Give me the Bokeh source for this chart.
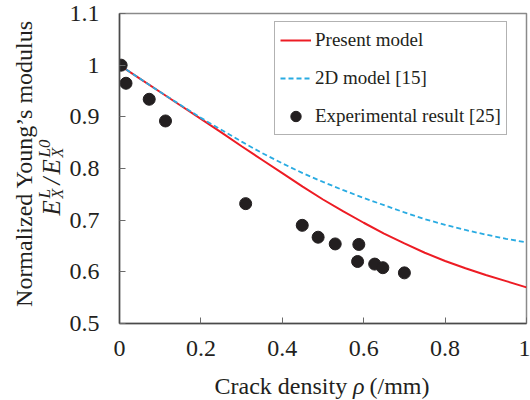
from math import pi
from bokeh.plotting import figure
from bokeh.layouts import row, column
from bokeh.models import Range1d, FixedTicker, Legend, LegendItem
from bokeh.core.properties import value
from bokeh.embed import file_html
from bokeh.resources import INLINE

# ---------------- data ----------------
rho_model = [0.0, 0.05, 0.1, 0.15, 0.2, 0.25, 0.3, 0.35, 0.4, 0.45, 0.5,
             0.55, 0.6, 0.65, 0.7, 0.75, 0.8, 0.85, 0.9, 0.95, 1.0]
present_model = [1.000, 0.974, 0.948, 0.922, 0.896, 0.870, 0.843, 0.817, 0.791, 0.765, 0.740,
                 0.717, 0.695, 0.674, 0.655, 0.637, 0.621, 0.607, 0.594, 0.582, 0.570]
model_2d = [1.000, 0.974, 0.948, 0.923, 0.898, 0.875, 0.852, 0.830, 0.810, 0.791, 0.774,
            0.758, 0.743, 0.729, 0.715, 0.702, 0.691, 0.681, 0.672, 0.664, 0.657]
rho_exp = [0.004, 0.016, 0.073, 0.113, 0.310, 0.449, 0.488, 0.530, 0.588, 0.585, 0.627, 0.647, 0.700]
E_exp = [1.000, 0.965, 0.934, 0.892, 0.732, 0.690, 0.667, 0.654, 0.653, 0.620, 0.615, 0.608, 0.598]

x_ticks = [0, 0.2, 0.4, 0.6, 0.8, 1.0]
x_tick_labels = ["0", "0.2", "0.4", "0.6", "0.8", "1"]
y_ticks = [0.5, 0.6, 0.7, 0.8, 0.9, 1.0, 1.1]
y_tick_labels = ["0.5", "0.6", "0.7", "0.8", "0.9", "1", "1.1"]

series_names = ["Present model", "2D model [15]", "Experimental result [25]"]

# ---------------- layout ----------------
W, H = 530, 400
YSTRIP_W = 66          # strip on the left holding the y title
XSTRIP_H = 28          # strip at the bottom holding the x title
MAIN_W = W - YSTRIP_W
MAIN_H = H - XSTRIP_H
FRAME_L, FRAME_R, FRAME_T, FRAME_B = 118, 526, 13, 323

INK = "#231f20"
SERIF = "Liberation Serif"

p = figure(width=MAIN_W, height=MAIN_H, x_range=Range1d(0, 1), y_range=Range1d(0.5, 1.1),
           output_backend="svg", toolbar_location=None, title=None,
           min_border_left=FRAME_L - YSTRIP_W, min_border_right=W - FRAME_R,
           min_border_top=FRAME_T, min_border_bottom=MAIN_H - FRAME_B)
p.frame_align = False
p.background_fill_color = "white"
p.border_fill_color = "white"
p.outline_line_color = "#8a8a8a"
p.outline_line_width = 1.5
p.grid.visible = False

for ax, ticks, labels in ((p.xaxis[0], x_ticks, x_tick_labels), (p.yaxis[0], y_ticks, y_tick_labels)):
    ax.ticker = FixedTicker(ticks=ticks)
    ax.major_label_overrides = {t: l for t, l in zip(ticks, labels)}
    ax.axis_line_color = "#4a4a4a"
    ax.axis_line_width = 1.5
    ax.major_tick_in = 6
    ax.major_tick_out = 0
    ax.major_tick_line_color = "#6a6a6a"
    ax.major_tick_line_width = 1
    ax.minor_tick_line_color = None
    ax.major_label_text_font = SERIF
    ax.major_label_text_font_size = "24px"
    ax.major_label_text_color = INK
p.xaxis[0].major_label_standoff = 17
p.yaxis[0].major_label_standoff = 20

r_red = p.line(rho_model, present_model, line_color="#ed1c24", line_width=2)
r_blue = p.line(rho_model, model_2d, line_color="#29abe2", line_width=1.8, line_dash="5 3")
r_exp = p.scatter(rho_exp, E_exp, size=12, fill_color=INK, line_color=INK)

legend = Legend(items=[LegendItem(label=series_names[0], renderers=[r_red]),
                       LegendItem(label=series_names[1], renderers=[r_blue]),
                       LegendItem(label=series_names[2], renderers=[r_exp])],
                location=(155, 188), margin=0, padding=5, spacing=12,
                glyph_width=31, glyph_height=26, label_height=26, label_standoff=4,
                border_line_color="#666666", border_line_width=1.5,
                background_fill_color="white", background_fill_alpha=1.0,
                label_text_font=SERIF, label_text_font_size="19px", label_text_color=INK)
p.add_layout(legend)


def strip(w, h, x0, y0):
    """A bare figure whose ranges are canvas pixels (x from left, y from bottom)."""
    f = figure(width=w, height=h, x_range=Range1d(x0, x0 + w), y_range=Range1d(y0, y0 + h),
               output_backend="svg", toolbar_location=None, title=None,
               x_axis_location=None, y_axis_location=None, min_border=0)
    f.frame_align = False
    f.grid.visible = False
    f.outline_line_color = None
    f.background_fill_color = "white"
    f.border_fill_color = "white"
    return f


def put(f, px, py, text, size="24px", style="normal", align="left", angle=0.0):
    f.text(x=[px], y=[H - py], text=[text], angle=angle,
           text_font=value(SERIF), text_font_size=value(size), text_font_style=style,
           text_color=INK, text_align=align, text_baseline="middle")


# y title strip (left)
ys = strip(YSTRIP_W, H, 0, 0)
put(ys, 23, 163, "Normalized Young\u2019s modulus", align="center", angle=pi / 2)
put(ys, 51, 215, "E", size="25px", style="italic", angle=pi / 2)
put(ys, 44, 198, "L", size="17px", style="italic", angle=pi / 2)
put(ys, 56.5, 198, "X", size="16px", style="italic", angle=pi / 2)
put(ys, 51, 184, "/", size="25px", style="italic", angle=pi / 2)
put(ys, 51, 174, "E", size="25px", style="italic", angle=pi / 2)
put(ys, 44, 157, "L0", size="17px", style="italic", angle=pi / 2)
put(ys, 56.5, 157, "X", size="16px", style="italic", angle=pi / 2)

# x title strip (bottom)
xs = strip(MAIN_W, XSTRIP_H, YSTRIP_W, 0)
put(xs, 214, 385, "Crack density")
put(xs, 352.5, 385, "\u03c1", style="italic")
put(xs, 369, 385, "(/mm)")

layout = row(ys, column(p, xs, spacing=0), spacing=0)

open("out.html", "w").write(file_html(layout, INLINE))
